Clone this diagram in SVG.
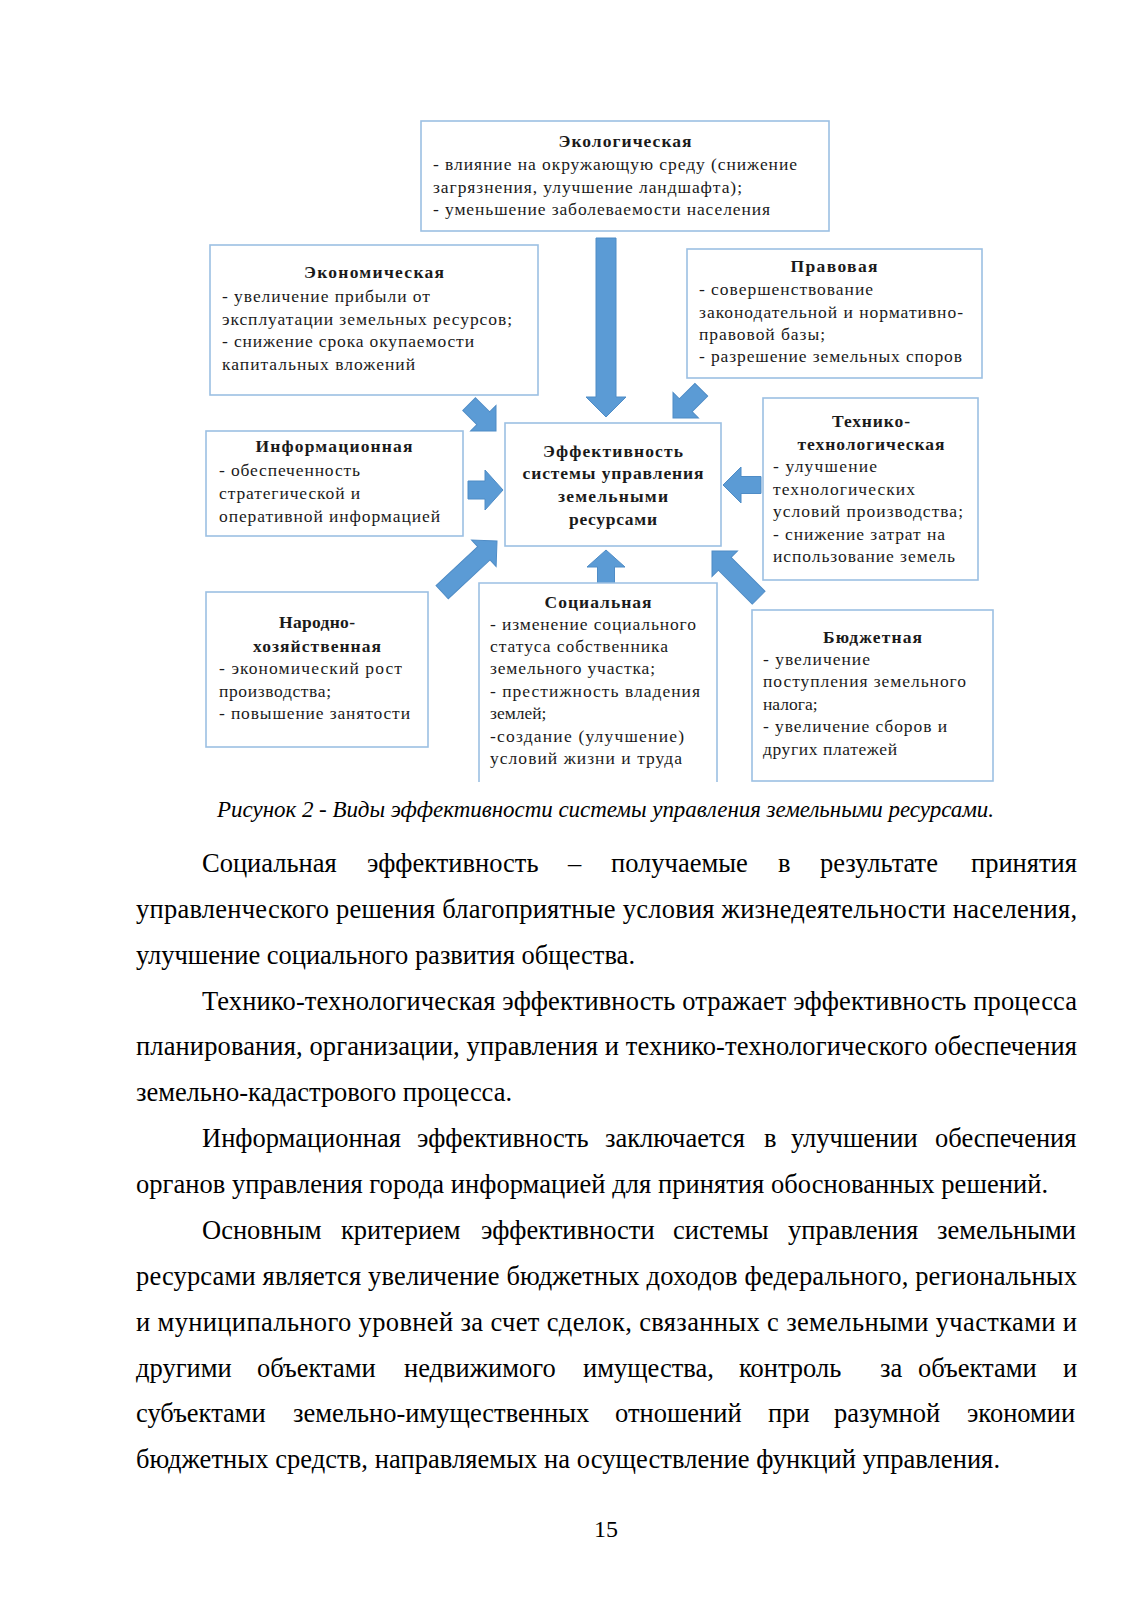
<svg xmlns="http://www.w3.org/2000/svg" width="1132" height="1601" viewBox="0 0 1132 1601">
<style>
.box{fill:#fff;stroke:#9CC0E3;stroke-width:1.6}
.arr{fill:#5B9BD5;stroke:#4F8CC6;stroke-width:1}
.t{font-family:"Liberation Serif",serif;font-size:17.5px;fill:#1a1a1a}
.b{font-family:"Liberation Serif",serif;font-size:17.5px;font-weight:bold;fill:#1a1a1a;text-anchor:middle}
.p{font-family:"Liberation Serif",serif;font-size:26.5px;fill:#000}
.cap{font-family:"Liberation Serif",serif;font-size:23px;font-style:italic;fill:#000}
</style>
<rect width="1132" height="1601" fill="#fff"/>

<g id="connectors">
  <polygon class="arr" transform="translate(606,417) rotate(90)" points="-179,-10 -20,-10 -20,-20 0,0 -20,20 -20,10 -179,10"/>
  <polygon class="arr" transform="translate(503,490)" points="-35,-9 -18,-9 -18,-20 0,0 -18,20 -18,9 -35,9"/>
  <polygon class="arr" transform="translate(723,485) rotate(180)" points="-38,-8.5 -18,-8.5 -18,-18 0,0 -18,18 -18,8.5 -38,8.5"/>
  <polygon class="arr" transform="translate(606,550) rotate(-90)" points="-33,-8.5 -17,-8.5 -17,-19 0,0 -17,19 -17,8.5 -33,8.5"/>
  <polygon class="arr" transform="translate(496,431) rotate(45)" points="-38,-9 -18,-9 -18,-18 0,0 -18,18 -18,9 -38,9"/>
  <polygon class="arr" transform="translate(673,418) rotate(135)" points="-40,-9 -18,-9 -18,-18 0,0 -18,18 -18,9 -40,9"/>
  <polygon class="arr" transform="translate(497,541) rotate(-43)" points="-75,-9 -18,-9 -18,-18 0,0 -18,18 -18,9 -75,9"/>
  <polygon class="arr" transform="translate(712,551) rotate(-135)" points="-66,-9 -18,-9 -18,-18 0,0 -18,18 -18,9 -66,9"/>
</g>

<g id="node-ecological">
  <rect class="box" x="421" y="121" width="408" height="110"/>
  <text class="b" x="625" y="147" textLength="133">Экологическая</text>
  <text class="t" x="433" y="170" textLength="364">- влияние на окружающую среду (снижение</text>
  <text class="t" x="433" y="193" textLength="309">загрязнения, улучшение ландшафта);</text>
  <text class="t" x="433" y="215" textLength="337">- уменьшение заболеваемости населения</text>
</g>

<g id="node-economic">
  <rect class="box" x="210" y="245" width="328" height="150"/>
  <text class="b" x="374" y="278" textLength="140">Экономическая</text>
  <text class="t" x="222" y="302" textLength="208">- увеличение прибыли от</text>
  <text class="t" x="222" y="325" textLength="290">эксплуатации земельных ресурсов;</text>
  <text class="t" x="222" y="347" textLength="252">- снижение срока окупаемости</text>
  <text class="t" x="222" y="370" textLength="193">капитальных вложений</text>
</g>

<g id="node-legal">
  <rect class="box" x="687" y="249" width="295" height="129"/>
  <text class="b" x="834" y="272" textLength="87">Правовая</text>
  <text class="t" x="699" y="295" textLength="174">- совершенствование</text>
  <text class="t" x="699" y="318" textLength="264">законодательной и нормативно-</text>
  <text class="t" x="699" y="340" textLength="126">правовой базы;</text>
  <text class="t" x="699" y="362" textLength="263">- разрешение земельных споров</text>
</g>

<g id="node-informational">
  <rect class="box" x="206" y="431" width="257" height="105"/>
  <text class="b" x="334" y="452" textLength="157">Информационная</text>
  <text class="t" x="219" y="476" textLength="141">- обеспеченность</text>
  <text class="t" x="219" y="499" textLength="141">стратегической и</text>
  <text class="t" x="219" y="522" textLength="221">оперативной информацией</text>
</g>

<g id="node-center">
  <rect class="box" x="505" y="423" width="216" height="123"/>
  <text class="b" x="613" y="457" textLength="140">Эффективность</text>
  <text class="b" x="613" y="479" textLength="181">системы управления</text>
  <text class="b" x="613" y="502" textLength="110">земельными</text>
  <text class="b" x="613" y="525" textLength="88">ресурсами</text>
</g>

<g id="node-technical">
  <rect class="box" x="763" y="398" width="215" height="182"/>
  <text class="b" x="871" y="427" textLength="78">Технико-</text>
  <text class="b" x="871" y="450" textLength="147">технологическая</text>
  <text class="t" x="773" y="472" textLength="104">- улучшение</text>
  <text class="t" x="773" y="495" textLength="142">технологических</text>
  <text class="t" x="773" y="517" textLength="190">условий производства;</text>
  <text class="t" x="773" y="540" textLength="172">- снижение затрат на</text>
  <text class="t" x="773" y="562" textLength="182">использование земель</text>
</g>

<g id="node-national">
  <rect class="box" x="206" y="592" width="222" height="155"/>
  <text class="b" x="317" y="628" textLength="76">Народно-</text>
  <text class="b" x="317" y="652" textLength="128">хозяйственная</text>
  <text class="t" x="219" y="674" textLength="183">- экономический рост</text>
  <text class="t" x="219" y="697" textLength="112">производства;</text>
  <text class="t" x="219" y="719" textLength="191">- повышение занятости</text>
</g>

<g id="node-social">
  <rect x="479" y="583" width="238" height="199" fill="#fff"/>
  <polyline points="479,782 479,583 717,583 717,782" fill="none" stroke="#9CC0E3" stroke-width="1.6"/>
  <text class="b" x="598" y="608" textLength="107">Социальная</text>
  <text class="t" x="490" y="630" textLength="206">- изменение социального</text>
  <text class="t" x="490" y="652" textLength="178">статуса собственника</text>
  <text class="t" x="490" y="674" textLength="165">земельного участка;</text>
  <text class="t" x="490" y="697" textLength="210">- престижность владения</text>
  <text class="t" x="490" y="719">землей;</text>
  <text class="t" x="490" y="742" textLength="194">-создание (улучшение)</text>
  <text class="t" x="490" y="764" textLength="192">условий жизни и труда</text>
</g>

<g id="node-budget">
  <rect class="box" x="752" y="610" width="241" height="171"/>
  <text class="b" x="872.5" y="643" textLength="99">Бюджетная</text>
  <text class="t" x="763" y="665" textLength="107">- увеличение</text>
  <text class="t" x="763" y="687" textLength="203">поступления земельного</text>
  <text class="t" x="763" y="710">налога;</text>
  <text class="t" x="763" y="732" textLength="184">- увеличение сборов и</text>
  <text class="t" x="763" y="755" textLength="134">других платежей</text>
</g>

<text class="cap" x="217" y="817" textLength="777">Рисунок 2 - Виды эффективности системы управления земельными ресурсами.</text>

<g id="body">
  <text class="p" y="872"><tspan x="202">Социальная</tspan><tspan x="367">эффективность</tspan><tspan x="568">–</tspan><tspan x="611">получаемые</tspan><tspan x="778">в</tspan><tspan x="820">результате</tspan><tspan x="971">принятия</tspan></text>
  <text class="p" x="136" y="918" textLength="941">управленческого решения благоприятные условия жизнедеятельности населения,</text>
  <text class="p" x="136" y="964" textLength="499">улучшение социального развития общества.</text>
  <text class="p" x="202" y="1010" textLength="875">Технико-технологическая эффективность отражает эффективность процесса</text>
  <text class="p" x="136" y="1055" textLength="941">планирования, организации, управления и технико-технологического обеспечения</text>
  <text class="p" x="136" y="1101" textLength="376">земельно-кадастрового процесса.</text>
  <text class="p" y="1147"><tspan x="202">Информационная</tspan><tspan x="417">эффективность</tspan><tspan x="605">заключается</tspan><tspan x="764">в</tspan><tspan x="791">улучшении</tspan><tspan x="935">обеспечения</tspan></text>
  <text class="p" x="136" y="1193" textLength="912">органов управления города информацией для принятия обоснованных решений.</text>
  <text class="p" y="1239"><tspan x="202">Основным</tspan><tspan x="341">критерием</tspan><tspan x="481">эффективности</tspan><tspan x="673">системы</tspan><tspan x="788">управления</tspan><tspan x="937">земельными</tspan></text>
  <text class="p" x="136" y="1285" textLength="941">ресурсами является увеличение бюджетных доходов федерального, региональных</text>
  <text class="p" x="136" y="1331" textLength="941">и муниципального уровней за счет сделок, связанных с земельными участками и</text>
  <text class="p" y="1377"><tspan x="136">другими</tspan><tspan x="257">объектами</tspan><tspan x="404">недвижимого</tspan><tspan x="583">имущества,</tspan><tspan x="739">контроль</tspan><tspan x="880">за</tspan><tspan x="918">объектами</tspan><tspan x="1063">и</tspan></text>
  <text class="p" y="1422"><tspan x="136">субъектами</tspan><tspan x="293">земельно-имущественных</tspan><tspan x="615">отношений</tspan><tspan x="768">при</tspan><tspan x="834">разумной</tspan><tspan x="967">экономии</tspan></text>
  <text class="p" x="136" y="1468" textLength="864">бюджетных средств, направляемых на осуществление функций управления.</text>
</g>

<text class="p" x="606" y="1537" text-anchor="middle" style="font-size:24px">15</text>
</svg>
